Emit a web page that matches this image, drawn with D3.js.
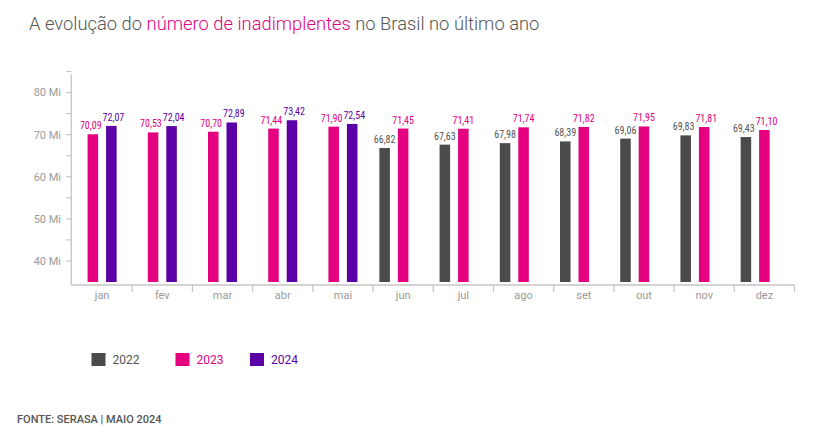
<!DOCTYPE html>
<html>
<head>
<meta charset="utf-8">
<script src="https://cdn.jsdelivr.net/npm/d3@7"></script>
<style>
  html, body { margin: 0; padding: 0; background: #fff; }
  svg { display: block; }
</style>
</head>
<body>
<div id="chart"></div>
<script>
// ---- Data ----
const months = ["jan","fev","mar","abr","mai","jun","jul","ago","set","out","nov","dez"];
const years = ["2022","2023","2024"];
const values2022 = [null,null,null,null,null,66.82,67.63,67.98,68.39,69.06,69.83,69.43];
const values2023 = [70.09,70.53,70.70,71.44,71.90,71.45,71.41,71.74,71.82,71.95,71.81,71.10];
const values2024 = [72.07,72.04,72.89,73.42,72.54,null,null,null,null,null,null,null];
const yTicks = [40,50,60,70,80];
const yMinorTicks = [40,45,50,55,60,65,70,75,80,85];
const colors = {"2022":"#4b4b4b","2023":"#e4007e","2024":"#5b00a6"};
const labelColors = {"2022":"#555555","2023":"#e4007e","2024":"#5b00a6"};
const titleParts = [
  {text:"A evolução do ", color:"#555555"},
  {text:"número de inadimplentes", color:"#e4007e"},
  {text:" no Brasil no último ano", color:"#555555"}
];
const sourceText = "FONTE: SERASA | MAIO 2024";

const seriesByYear = {"2022":values2022,"2023":values2023,"2024":values2024};

// ---- Layout ----
const W = 815, H = 446;
const svg = d3.select("#chart").append("svg").attr("width", W).attr("height", H);

const axisX = 71.3, axisBottom = 285, axisTop = 74;

const x0 = d3.scaleBand().domain(months).range([72, 794.5]).padding(0);
const x1 = d3.scaleBand().domain(years).range([0, 55.5]).paddingInner(0.43).paddingOuter(0.215);
const y = d3.scaleLinear().domain([35, 85]).range([282, 71.5]);

const labelFont = "'Liberation Sans Narrow','Roboto Condensed','Arial Narrow',Roboto,sans-serif";

// Title
const title = svg.append("text").attr("x", 29).attr("y", 30)
  .style("font-family", "Roboto, 'Open Sans', sans-serif")
  .style("font-weight", 300).style("font-size", "17px");
titleParts.forEach(p => title.append("tspan").attr("fill", p.color).text(p.text));
const tl = title.node().getComputedTextLength();
title.style("font-size", (17 * 511 / tl).toFixed(2) + "px");

// Y axis
const gy = svg.append("g");
gy.append("line").attr("x1", axisX).attr("x2", axisX).attr("y1", axisTop).attr("y2", axisBottom)
  .attr("stroke", "#c4c4c4").attr("stroke-width", 1.3);
gy.selectAll("line.tick").data(yMinorTicks).join("line")
  .attr("class","tick")
  .attr("x1", axisX - 5).attr("x2", axisX)
  .attr("y1", d => y(d)).attr("y2", d => y(d))
  .attr("stroke", "#c4c4c4").attr("stroke-width", 1.2);
gy.selectAll("text").data(yTicks).join("text")
  .attr("x", 61).attr("y", d => y(d)).attr("dy", "0.35em")
  .attr("text-anchor", "end").attr("fill", "#9a9a9a")
  .style("font-family", "Roboto, sans-serif").style("font-size", "11px")
  .text(d => d + " Mi");

// X axis
const gx = svg.append("g");
gx.append("line").attr("x1", axisX).attr("x2", x0.range()[1]).attr("y1", axisBottom).attr("y2", axisBottom)
  .attr("stroke", "#c4c4c4").attr("stroke-width", 1.3);
const boundaries = months.slice(1).map(m => x0(m)).concat([x0.range()[1]]);
gx.selectAll("line.tick").data(boundaries).join("line")
  .attr("class","tick")
  .attr("x1", d => d).attr("x2", d => d).attr("y1", axisBottom).attr("y2", axisBottom + 7)
  .attr("stroke", "#c4c4c4").attr("stroke-width", 1.2);
gx.selectAll("text").data(months).join("text")
  .attr("x", d => x0(d) + x0.bandwidth()/2).attr("y", 299)
  .attr("text-anchor", "middle").attr("fill", "#9a9a9a")
  .style("font-family", "Roboto, sans-serif").style("font-size", "11px")
  .text(d => d);

// Bars
const barData = [];
months.forEach((m, i) => {
  const present = years.filter(yr => seriesByYear[yr][i] != null);
  const shift = present[0] === years[0] ? 0 : -x1.step()/2;
  const groupStart = x0(m) + x0.bandwidth()/2 - 55.5/2 + shift;
  present.forEach(yr => barData.push({m, yr, v: seriesByYear[yr][i], x: groupStart + x1(yr)}));
});

svg.append("g").selectAll("rect").data(barData).join("rect")
  .attr("x", d => d.x).attr("width", x1.bandwidth())
  .attr("y", d => y(d.v)).attr("height", d => y(35) - y(d.v))
  .attr("fill", d => colors[d.yr]);

const labels = svg.append("g").selectAll("text").data(barData).join("text")
  .attr("x", d => d.x + x1.bandwidth()/2).attr("y", d => y(d.v) - 5)
  .attr("text-anchor", "middle").attr("fill", d => labelColors[d.yr])
  .style("font-family", labelFont).style("font-size", "10px")
  .text(d => d3.format(".2f")(d.v).replace(".", ","));

// Nudge neighbouring labels apart when they would touch
const nodes = labels.nodes();
for (let k = 0; k < barData.length - 1; k++) {
  const a = barData[k], b = barData[k+1];
  if (a.m !== b.m) continue;
  const wa = nodes[k].getComputedTextLength(), wb = nodes[k+1].getComputedTextLength();
  const ca = a.x + x1.bandwidth()/2, cb = b.x + x1.bandwidth()/2;
  const overlap = (ca + wa/2 + 1) - (cb - wb/2);
  const vClose = Math.abs(y(a.v) - y(b.v)) < 10;
  if (overlap > 0 && vClose) {
    d3.select(nodes[k]).attr("x", ca - overlap/2);
    d3.select(nodes[k+1]).attr("x", cb + overlap/2);
  }
}

// Legend
const legendX = [91.5, 175.5, 250];
const lg = svg.append("g").selectAll("g").data(years).join("g")
  .attr("transform", (d, i) => `translate(${legendX[i]},353)`);
lg.append("rect").attr("width", 14).attr("height", 13).attr("fill", d => colors[d]);
lg.append("text").attr("x", 21).attr("y", 6.5).attr("dy", "0.36em")
  .attr("fill", d => labelColors[d])
  .style("font-family", "Roboto, sans-serif").style("font-size", "12px")
  .text(d => d);

// Source
svg.append("text").attr("x", 17).attr("y", 423)
  .attr("fill", "#555").style("font-family", "Roboto, sans-serif")
  .style("font-weight", 500).style("font-size", "11px")
  .text(sourceText);
</script>
</body>
</html>
